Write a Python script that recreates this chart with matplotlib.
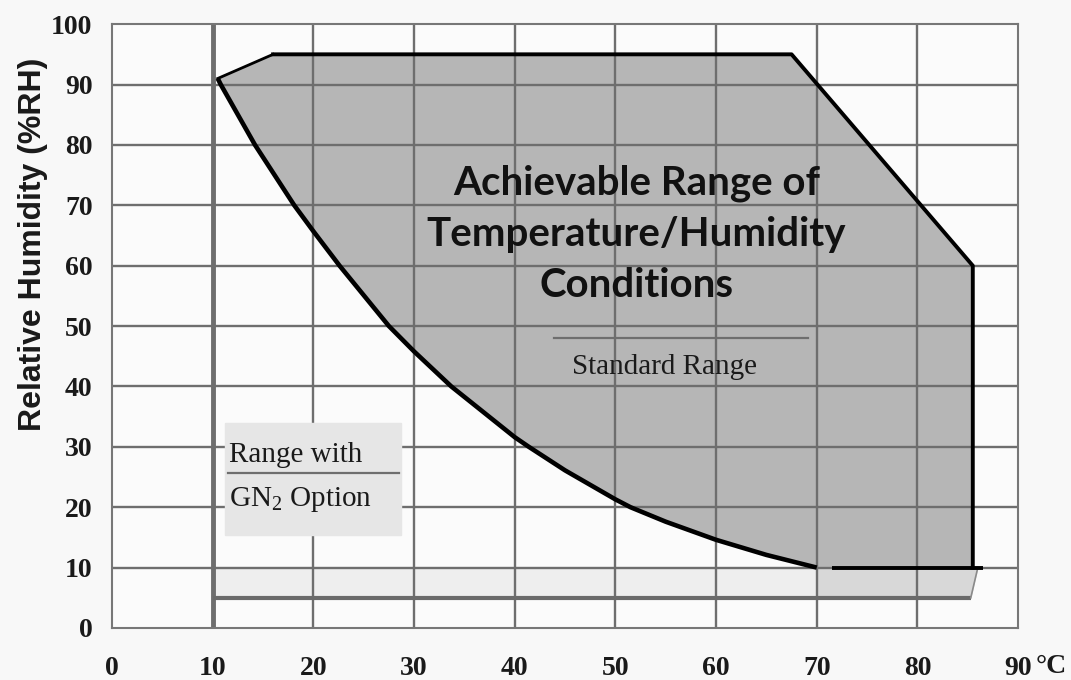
"""Temperature / humidity operating envelope of the test chamber."""

import matplotlib

matplotlib.use("Agg")
import matplotlib.pyplot as plt

plt.rcParams["mathtext.fontset"] = "custom"
plt.rcParams["mathtext.rm"] = "Liberation Serif"

# temperature (degC) / humidity (%RH) envelope
CURVE_T = [10.5, 10.8, 14.2, 18.1, 20.0, 22.6, 27.5, 30.0, 33.7, 40.0, 41.4, 45.0, 50.0, 51.5, 55.0, 60.0, 65.0, 70.0]
CURVE_RH = [91.0, 90.0, 80.0, 70.0, 65.7, 60.0, 50.0, 45.8, 40.0, 31.6, 30.0, 26.1, 21.3, 20.0, 17.6, 14.6, 12.1, 10.0]
UPPER_T = [10.5, 16.0, 67.5, 85.5, 85.5]
UPPER_RH = [91.0, 95.0, 95.0, 60.0, 10.0]
LOW_RH = 10.0

# GN2 option extends the low-humidity side down to ~5 %RH
GN2_T = [10.0, 85.3, 86.0, 10.0]
GN2_RH = [5.0, 5.0, 10.0, 10.0]
GN2_SHADED_T = [70.0, 85.3, 86.0, 70.0]

X_TICKS = [0, 10, 20, 30, 40, 50, 60, 70, 80, 90]
Y_TICKS = [0, 10, 20, 30, 40, 50, 60, 70, 80, 90, 100]

GRID = "#6e6e6e"
FILL = "#b6b6b6"
INK = "#1a1a1a"

fig = plt.figure(figsize=(10.71, 6.8), dpi=100, facecolor="#f8f8f8")
ax = fig.add_axes([0.1046, 0.0765, 0.846, 0.888])
ax.set_facecolor("#fbfbfb")
ax.set_xlim(0, 90)
ax.set_ylim(0, 100)

# GN2 strip
ax.fill(GN2_T, GN2_RH, color="#eeeeee", zorder=1)
ax.fill(GN2_SHADED_T, GN2_RH, color="#d8d8d8", zorder=1)

# standard range polygon
poly_t = UPPER_T + CURVE_T[::-1]
poly_rh = UPPER_RH + CURVE_RH[::-1]
ax.fill(poly_t, poly_rh, color=FILL, zorder=1)

# grid
for x in X_TICKS[1:-1]:
    ax.axvline(x, color=GRID, lw=1.7 if x != 10 else 3.5, zorder=2)
for y in Y_TICKS[1:-1]:
    ax.axhline(y, color=GRID, lw=1.7, zorder=2)

# GN2 boundary
ax.plot(GN2_T[:2], GN2_RH[:2], color="#6a6a6a", lw=3.0, zorder=3, solid_capstyle="butt")
ax.plot(GN2_T[1:3], GN2_RH[1:3], color="#8a8a8a", lw=1.2, zorder=3)

# standard range boundary
ax.plot(CURVE_T, CURVE_RH, color="black", lw=3.3, zorder=4,
        solid_capstyle="butt", solid_joinstyle="round")
ax.plot(UPPER_T[:2], UPPER_RH[:2], color="black", lw=2.0, zorder=4)
ax.plot(UPPER_T[1:], UPPER_RH[1:], color="black", lw=2.8, zorder=4)
ax.plot([71.5, 86.5], [LOW_RH, LOW_RH], color="black", lw=2.8, zorder=4, solid_capstyle="butt")

# label boxes
ax.fill([11.2, 28.7, 28.7, 11.2], [15.4, 15.4, 34.0, 34.0], color="#e6e6e6", zorder=2.5)
ax.plot([11.5, 28.5], [25.7, 25.7], color=GRID, lw=1.6, zorder=3)
ax.text(11.6, 28.6, "Range with", family="Liberation Serif", fontsize=21,
        va="center", ha="left", color=INK, zorder=5)
ax.text(11.6, 21.2, r"GN$_\mathrm{2}$ Option", family="Liberation Serif", fontsize=21,
        va="center", ha="left", color=INK, zorder=5)

ax.plot([43.9, 69.1], [48.0, 48.0], color=GRID, lw=1.6, zorder=3)
ax.text(54.9, 43.2, "Standard Range", family="Liberation Serif", fontsize=21,
        va="center", ha="center", color=INK, zorder=5)

ax.text(52.1, 65.2, "Achievable Range of\nTemperature/Humidity\nConditions",
        family="Lato", weight="bold", fontsize=29, ha="center", va="center",
        linespacing=1.48, color="#111111", zorder=5)

# axes frame and ticks
for side in ax.spines.values():
    side.set_color("#777777")
    side.set_linewidth(1.5)
ax.set_xticks(X_TICKS)
ax.set_yticks(Y_TICKS)
ax.set_xticklabels([str(t) for t in X_TICKS])
ax.set_yticklabels([str(t) for t in Y_TICKS])
ax.tick_params(axis="x", length=0, pad=20)
ax.tick_params(axis="y", length=0, pad=14)
for lab in ax.get_xticklabels() + ax.get_yticklabels():
    lab.set_family("Liberation Serif")
    lab.set_weight("bold")
    lab.set_fontsize(20)
    lab.set_color(INK)
ax.annotate("°C", xy=(90, 0), xycoords="data", xytext=(24, -28),
            textcoords="offset points", family="Liberation Serif", weight="bold",
            fontsize=20, color=INK, ha="center", va="center", annotation_clip=False)

fig.text(0.031, 0.64, "Relative Humidity (%RH)", rotation=90, family="Liberation Sans",
         weight="bold", fontsize=23, ha="center", va="center", color=INK)

fig.savefig("out.png", dpi=100, facecolor=fig.get_facecolor())
